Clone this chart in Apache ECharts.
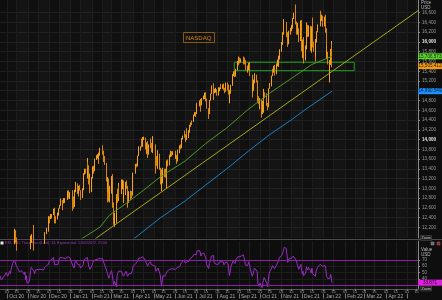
<!DOCTYPE html>
<html><head><meta charset="utf-8">
<script src="https://cdn.jsdelivr.net/npm/echarts@6/dist/echarts.min.js"></script>
<style>html,body{margin:0;padding:0;background:#0e0e0e;}#c{width:442px;height:300px;}</style>
</head><body><div id="c"></div>
<script>
// ---- data ----
const firstDay = '2020-09-21', lastDay = '2022-01-13';
const holidays = ['2020-11-26','2020-12-25','2021-01-01','2021-01-18','2021-02-15','2021-04-02','2021-05-31','2021-07-05','2021-09-06','2021-11-25','2021-12-24'];
const firstOpen = 10900;
const closes = [
10940,11120,10630,10680,10910,11170,11170,11420,
11570,11230,11520,11340,11580,11660,11870,12090,12040,11920,11860,11850,11640,11670,11670,11700,11690,11520,11640,11210,11420,11050,
11100,11300,11750,12000,12000,11740,11550,11830,11770,11830,11900,11890,11790,11900,11820,11880,12030,12080,12160,12250,
12400,12390,12410,12460,12530,12560,12340,12400,12380,12440,12580,12640,12720,12760,12740,12780,12720,12770,12900,12850,12850,12890,
12700,12800,12620,12940,13110,12940,12910,13010,12960,12800,12960,13300,13380,13370,13490,13470,13110,13190,12930,
13200,13400,13360,13530,13590,13640,13650,13620,13700,13810,13770,13700,13580,13520,13170,13160,13200,12740,12890,
13240,12990,12620,12300,12480,12300,12800,12740,13050,12920,13070,13130,13160,12770,12880,13100,13020,12770,12740,12920,12910,12850,13090,
13300,13480,13470,13510,13660,13850,13850,14000,13850,14040,14040,13910,13790,13930,13690,13840,13980,13850,13840,13860,13860,
13780,13550,13480,13600,13720,13400,13390,12980,13100,13400,13320,13240,13260,13550,13470,13660,13680,13740,13690,13690,
13640,13680,13550,13770,13810,13830,13820,14020,14070,14170,14070,14040,14160,14140,14180,14280,14300,14370,14360,14500,14530,14550,
14520,14740,14790,14810,14700,14830,14880,14880,14920,14800,14640,14520,14700,14800,14930,15100,15130,14960,14990,15010,14960,
14960,15030,15050,15140,15080,15110,15030,15000,15080,15160,15130,14970,14830,14940,15100,15330,15360,15380,15290,15430,15600,15580,
15610,15600,15650,15690,15640,15560,15440,15430,15440,15560,15560,15330,14990,15010,15150,15310,15320,15210,14770,14760,14690,
14830,14510,14710,14810,14940,14870,14690,14660,14760,15040,15150,15300,15420,15400,15500,15340,15510,15540,15550,15700,15850,
15900,15980,16180,16350,16370,16340,16210,15960,16060,16220,16220,16330,16320,16480,16570,16380,16300,16360,16020,16380,16140,
15830,15990,15700,15850,16300,16360,16110,16320,16100,15930,16300,15900,15870,15700,16050,16200,16320,16570,16490,16490,16440,16320,
16500,16280,15770,15770,15600,15620,15850,15910,15505.412];
const highs = [
11000,11150,11150,10880,10930,11200,11230,11500,
11600,11580,11530,11600,11590,11700,11880,12170,12140,12080,11990,11970,11900,11780,11780,11750,11720,11700,11700,11650,11560,11430,
11200,11400,11800,12030,12060,12250,11740,11850,11880,11860,11950,11930,11920,11930,11900,11950,12050,12100,12190,12270,
12430,12420,12470,12470,12560,12580,12600,12420,12420,12500,12590,12660,12760,12790,12760,12800,12800,12790,12950,12960,12920,12900,
12960,12830,12820,12970,13130,13100,12990,13050,13070,12960,13000,13310,13400,13400,13620,13540,13470,13300,13200,
13230,13450,13460,13540,13610,13680,13700,13720,13730,13830,13880,13770,13700,13660,13520,13190,13230,13200,13050,
13250,13290,13040,12710,12500,12680,12880,12990,13110,13050,13080,13180,13180,13160,12930,13130,13160,13050,12810,12940,12950,12940,13140,
13320,13500,13510,13520,13670,13860,13860,14010,14020,14050,14060,14040,13930,13940,13970,13900,13990,14020,13930,14070,13930,
13900,13800,13660,13620,13780,13710,13420,13390,13240,13420,13400,13400,13300,13570,13590,13690,13760,13770,13760,13760,
13770,13710,13680,13790,13830,13880,13900,14030,14080,14180,14170,14110,14190,14230,14190,14300,14350,14380,14390,14510,14560,14560,
14560,14750,14800,14830,14810,14850,14900,14920,14960,14970,14840,14640,14720,14810,14940,15110,15150,15140,15040,15060,15030,
15070,15040,15070,15140,15140,15130,15150,15060,15090,15170,15170,15130,15020,14990,15120,15340,15400,15400,15390,15450,15610,15620,
15700,15680,15660,15700,15690,15680,15630,15520,15480,15570,15590,15560,15330,15140,15230,15360,15350,15330,15210,14890,14850,
14840,14810,14790,14830,15040,14970,14950,14750,14810,15050,15160,15310,15430,15450,15510,15530,15560,15620,15640,15720,15850,
15930,16000,16200,16380,16470,16410,16400,16200,16100,16230,16290,16350,16380,16490,16600,16770,16420,16390,16280,16440,16430,
16450,16050,16100,15930,16340,16400,16350,16340,16330,16120,16320,16500,16010,15880,16060,16220,16360,16570,16640,16560,16540,16460,
16520,16560,16280,15910,15800,15630,15860,16020,15960];
const lows = [
10700,10900,10620,10500,10650,10900,11080,11150,
11400,11200,11230,11300,11340,11560,11650,11850,11980,11880,11720,11820,11600,11590,11620,11580,11600,11300,11480,11200,11190,10990,
10950,11080,11300,11750,11880,11720,11350,11540,11700,11700,11800,11820,11780,11740,11790,11720,11860,12010,12060,12110,
12240,12280,12370,12380,12450,12500,12280,12310,12280,12360,12440,12580,12640,12680,12550,12690,12700,12700,12760,12790,12820,12780,
12540,12680,12580,12620,12920,12880,12830,12900,12950,12760,12800,12960,13280,13300,13200,13410,13080,13100,12900,
12920,13200,13300,13350,13500,13580,13610,13500,13600,13670,13690,13560,13540,13480,13140,12710,12920,12730,12710,
12890,12950,12600,12250,12210,12280,12300,12700,12740,12810,12880,13020,12980,12750,12700,12860,12990,12740,12600,12700,12760,12790,12850,
13090,13300,13430,13450,13500,13660,13770,13850,13840,13850,13990,13800,13700,13720,13620,13690,13840,13830,13740,13720,13800,
13740,13300,13460,13400,13600,13380,13080,12980,12940,13100,13230,13220,13000,13260,13450,13470,13640,13660,13650,13680,
13600,13610,13500,13550,13720,13780,13810,13820,14000,14040,14050,13950,13990,14090,14030,14140,14260,14300,14320,14360,14480,14480,
14460,14520,14680,14730,14570,14700,14820,14830,14860,14780,14630,14420,14520,14700,14800,14930,15060,14810,14950,14960,14900,
14920,14900,14990,15030,15050,15040,15010,14950,14980,15080,15000,14920,14820,14740,14940,15100,15300,15340,15280,15290,15420,15520,
15560,15560,15580,15600,15540,15540,15420,15370,15380,15420,15470,15300,14860,14970,15000,15150,15200,15170,14760,14730,14670,
14620,14450,14520,14550,14800,14850,14690,14600,14660,14760,15040,15090,15300,15330,15370,15310,15340,15500,15520,15490,15640,
15800,15890,15940,16150,16290,16280,16100,15900,15950,16060,16150,16220,16270,16300,16470,16360,16150,16150,16000,16020,16080,
15810,15670,15560,15620,15850,16250,16100,16110,16070,15820,15780,15890,15800,15600,15700,15990,16200,16320,16470,16430,16400,16310,
16320,16190,15770,15650,15540,15170,15530,15850,15480];
const rsi = [
45,47,38,37,41,46,45,50,
52,44,52,48,55,58,64,70,67,62,59,58,51,52,52,53,53,47,51,38,45,33,
35,41,53,58,58,52,48,54,52,54,55,55,52,55,53,54,58,59,61,63,
68,67,68,70,74,76,62,63,61,63,70,72,74,75,73,74,70,72,75,72,72,73,
61,63,57,65,69,63,62,64,62,57,62,70,72,71,74,73,60,62,55,
62,66,65,68,70,71,71,70,72,74,72,70,65,63,52,52,53,41,45,
53,47,38,31,36,27,45,44,52,49,52,53,54,44,47,52,50,44,43,48,48,46,53,
60,64,64,65,69,73,73,76,70,75,75,69,65,68,60,64,67,63,63,64,64,
60,52,50,54,57,47,46,28,31,45,44,42,43,52,50,55,56,57,56,56,
55,56,52,58,59,60,59,66,67,70,65,64,68,67,68,72,73,75,74,79,80,82,
78,84,85,86,76,80,81,81,82,73,63,56,64,67,71,76,77,65,66,67,63,
63,66,67,70,66,67,62,60,64,67,64,54,45,51,59,68,69,70,64,70,75,74,
76,75,77,78,74,69,62,61,62,67,67,56,44,45,51,57,57,52,33,32,28,
33,26,33,37,42,40,33,27,36,47,51,57,61,60,63,56,62,63,64,69,74,
76,78,82,86,90,88,78,66,68,72,72,74,73,76,78,70,66,68,55,63,56,
48,52,45,49,59,60,54,58,53,49,57,48,47,44,52,55,58,63,61,61,60,57,
61,56,44,44,40,41,47,48,33.871];
const ma100 = [['2020-12-28',11700],['2021-01-14',11940],['2021-02-12',12200],['2021-02-26',12450],['2021-03-23',12700],['2021-04-16',12960],['2021-05-10',13230],['2021-06-15',13560],['2021-07-15',13920],['2021-08-16',14260],['2021-09-13',14606],['2021-10-15',14950],['2021-11-15',15250],['2021-12-15',15540],['2022-01-13',15706.573]];
const ma200 = [['2021-03-15',11780],['2021-03-31',11940],['2021-05-10',12390],['2021-06-15',12740],['2021-07-15',13070],['2021-08-16',13420],['2021-09-15',13770],['2021-10-15',14100],['2021-11-15',14400],['2021-12-08',14640],['2022-01-13',14990.549]];
const trendline = [['2021-02-05',11960],['2022-05-17',16642]];
const zoneDates = ['2021-08-25','2022-02-14'];
const zoneValues = [15412,15584];
const priceTicks = [12200,12400,12600,12800,13000,13200,13400,13600,13800,14000,14200,14400,14600,14800,15000,15200,15400,15600,15800,16000,16200,16400,16600];
const rsiTicks = [40,50,60,70];
const rsiBands = [70,30];
const monthNames = ['Jan','Feb','Mar','Apr','May','Jun','Jul','Aug','Sep','Oct','Nov','Dec'];
const titleText = 'NASDAQ';
const rsiLegend = 'RSI, 14D, Trade Price(Last), 14, Exponential, 13/01/2022, 21:00';

// ---- build ----
const ts = s => { const p = s.split('-').map(Number); return new Date(p[0], p[1]-1, p[2]).getTime(); };
function tradingDays(){
  const out=[]; let t=Date.UTC(2020,8,21); const end=Date.UTC(2022,0,13);
  while(t<=end){ const d=new Date(t); const wd=d.getUTCDay(); const s=d.toISOString().slice(0,10);
    if(wd!==0&&wd!==6&&holidays.indexOf(s)<0) out.push(s); t+=86400000; }
  return out;
}
const dates = tradingDays();
const ohlc = dates.map((d,i)=>[ts(d), i===0?firstOpen:closes[i-1], closes[i], lows[i], highs[i]]);
const rsiData = dates.map((d,i)=>[ts(d), rsi[i]]);
const toXY = arr => arr.map(p=>[ts(p[0]), p[1]]);
const X_MIN = ts('2020-09-21'), X_MAX = ts('2022-05-17');
const halfTicks=[], monthStarts=[], midMonths=[];
for(let y=2020,m=9; y<2022||(y===2022&&m<=4);){
  halfTicks.push(new Date(y,m,1).getTime(), new Date(y,m,15).getTime());
  monthStarts.push(new Date(y,m,1).getTime());
  if(!(y===2022&&m===4)) midMonths.push(new Date(y,m,15).getTime());
  m++; if(m>11){m=0;y++;}
}
const fmt3 = v => v.toLocaleString('en-US',{minimumFractionDigits:3,maximumFractionDigits:3});
function endTag(value, bg, fg){
  return {symbol:'rect', symbolSize:[24,6], symbolOffset:[12,0], silent:true, z:20,
    itemStyle:{color:bg}, label:{show:true, position:'inside', color:fg, fontSize:4.6, formatter:fmt3(value)},
    data:[{coord:[X_MAX-3600000, value], value:value}]};
}
const lastOf = a => a[a.length-1];
const FONT = 'Liberation Sans';
const gridLine = {color:'#1d1d1d', width:1};
const chart = echarts.init(document.getElementById('c'));
chart.setOption({
  backgroundColor:'#0e0e0e', animation:false,
  textStyle:{fontFamily:FONT},
  title:{text:titleText, left:183, top:32, padding:[3,3,2,3], borderColor:'#8a5a14', borderWidth:1,
    textStyle:{color:'#d98a1e', fontSize:6, fontWeight:'normal', fontFamily:FONT}},
  grid:[{left:0,right:24,top:0,height:238},{left:0,right:24,top:241,height:48}],
  xAxis:[
    {type:'value', gridIndex:0, min:X_MIN, max:X_MAX, axisLine:{show:false},
     axisTick:{show:false, customValues:halfTicks}, axisLabel:{show:false},
     splitLine:{show:true, lineStyle:gridLine},
     splitArea:{show:true, areaStyle:{color:['rgba(255,255,255,0.012)','rgba(255,255,255,0.028)']}}},
    {type:'value', gridIndex:1, min:X_MIN, max:X_MAX, axisLine:{show:true, lineStyle:{color:'#555'}},
     axisTick:{show:true, customValues:halfTicks, length:2, lineStyle:{color:'#777'}},
     axisLabel:{show:true, customValues:halfTicks, fontSize:4, color:'#999', margin:0.5, fontFamily:FONT,
       formatter:v=>String(new Date(v).getDate()).padStart(2,'0')},
     splitLine:{show:true, lineStyle:gridLine}},
    {type:'value', gridIndex:1, min:X_MIN, max:X_MAX, position:'bottom', offset:4.5, axisLine:{show:false},
     axisTick:{show:true, customValues:monthStarts, length:5, lineStyle:{color:'#777'}},
     axisLabel:{show:true, customValues:midMonths, fontSize:5, color:'#aaa', margin:0.5, fontFamily:FONT,
       formatter:v=>{const d=new Date(v); return monthNames[d.getMonth()]+' '+String(d.getFullYear()).slice(2);}},
     splitLine:{show:false}}
  ],
  yAxis:[
    {type:'value', gridIndex:0, position:'right', min:11980, max:16861,
     axisLine:{show:true, lineStyle:{color:'#8a8a8a'}},
     axisTick:{show:true, customValues:priceTicks, length:2, lineStyle:{color:'#8a8a8a'}},
     axisLabel:{show:true, customValues:priceTicks, fontSize:4.6, color:'#9a9a9a', margin:4, fontFamily:FONT,
       formatter:v=> v%2000===0 ? '{b|'+v.toLocaleString('en-US')+'}' : v.toLocaleString('en-US'),
       rich:{b:{fontSize:4.6, fontWeight:'bold', color:'#e6e6e6', fontFamily:FONT}}},
     splitLine:{show:true, lineStyle:gridLine}},
    {type:'value', gridIndex:1, position:'right', min:23.8, max:100,
     axisLine:{show:true, lineStyle:{color:'#8a8a8a'}},
     axisTick:{show:true, customValues:rsiTicks, length:2, lineStyle:{color:'#8a8a8a'}},
     axisLabel:{show:true, customValues:rsiTicks, fontSize:4.5, color:'#9a9a9a', margin:4, fontFamily:FONT},
     splitLine:{show:true, lineStyle:gridLine}}
  ],
  series:[
    {type:'candlestick', xAxisIndex:0, yAxisIndex:0, data:ohlc, barWidth:0.8,
     itemStyle:{color:'#f5a01a', color0:'#d8850e', borderColor:'#f5a01a', borderColor0:'#d8850e', borderWidth:1},
     markArea:{silent:true, itemStyle:{color:'rgba(0,0,0,0)', borderColor:'#1f9e1f', borderWidth:1},
       data:[[{coord:[ts(zoneDates[0]), zoneValues[1]]},{coord:[ts(zoneDates[1]), zoneValues[0]]}]]},
     markPoint:endTag(lastOf(closes),'#f39c12','#1a1000')},
    {type:'line', xAxisIndex:0, yAxisIndex:0, data:toXY(ma100), symbol:'none', lineStyle:{color:'#4f9a22', width:1},
     markPoint:endTag(lastOf(ma100)[1],'#5cd62a','#0a2000')},
    {type:'line', xAxisIndex:0, yAxisIndex:0, data:toXY(ma200), symbol:'none', lineStyle:{color:'#1f7fc0', width:1},
     markPoint:endTag(lastOf(ma200)[1],'#1e90ff','#001830')},
    {type:'line', xAxisIndex:0, yAxisIndex:0, data:toXY(trendline), symbol:'none', lineStyle:{color:'#a9a71c', width:1}},
    {type:'line', xAxisIndex:1, yAxisIndex:1, data:rsiData, symbol:'none', lineStyle:{color:'#9a2ec4', width:1},
     markLine:{silent:true, symbol:'none', label:{show:false}, lineStyle:{color:'#8e1fa6', type:'solid', width:1},
       data:rsiBands.map(v=>({yAxis:v}))},
     markPoint:endTag(lastOf(rsi),'#e020e0','#200020')}
  ],
  graphic:[
    {type:'line', shape:{x1:0,y1:239.5,x2:442,y2:239.5}, style:{stroke:'#4a4a4a', lineWidth:1}, silent:true},
    {type:'text', x:421, y:0.5, style:{text:'Price\nUSD', fill:'#bbbbbb', fontSize:4.5, fontFamily:FONT, lineHeight:5}},
    {type:'text', x:421, y:247, style:{text:'Value\nUSD', fill:'#bbbbbb', fontSize:4.5, fontFamily:FONT, lineHeight:5}},
    {type:'rect', shape:{x:420.5,y:235.5,width:11,height:5}, style:{fill:'#1e1e1e', stroke:'#555', lineWidth:0.5}},
    {type:'text', x:421.5, y:236, style:{text:'Zoom', fill:'#cccccc', fontSize:3.6, fontFamily:FONT}},
    {type:'rect', shape:{x:420.5,y:286,width:11,height:5}, style:{fill:'#1e1e1e', stroke:'#555', lineWidth:0.5}},
    {type:'text', x:421.5, y:286.5, style:{text:'Zoom', fill:'#cccccc', fontSize:3.6, fontFamily:FONT}},
    {type:'rect', shape:{x:431,y:242,width:3,height:3}, style:{fill:'#666', stroke:'#999', lineWidth:0.5}},
    {type:'rect', shape:{x:437,y:242,width:3,height:3}, style:{fill:'#633', stroke:'#d55', lineWidth:0.5}},
    {type:'rect', shape:{x:0.5,y:241.5,width:3,height:3}, style:{fill:'#e8e8e8'}},
    {type:'text', x:5, y:241.3, style:{text:rsiLegend, fill:'#a040c8', fontSize:3.6, fontFamily:FONT}}
  ]
});
</script></body></html>
